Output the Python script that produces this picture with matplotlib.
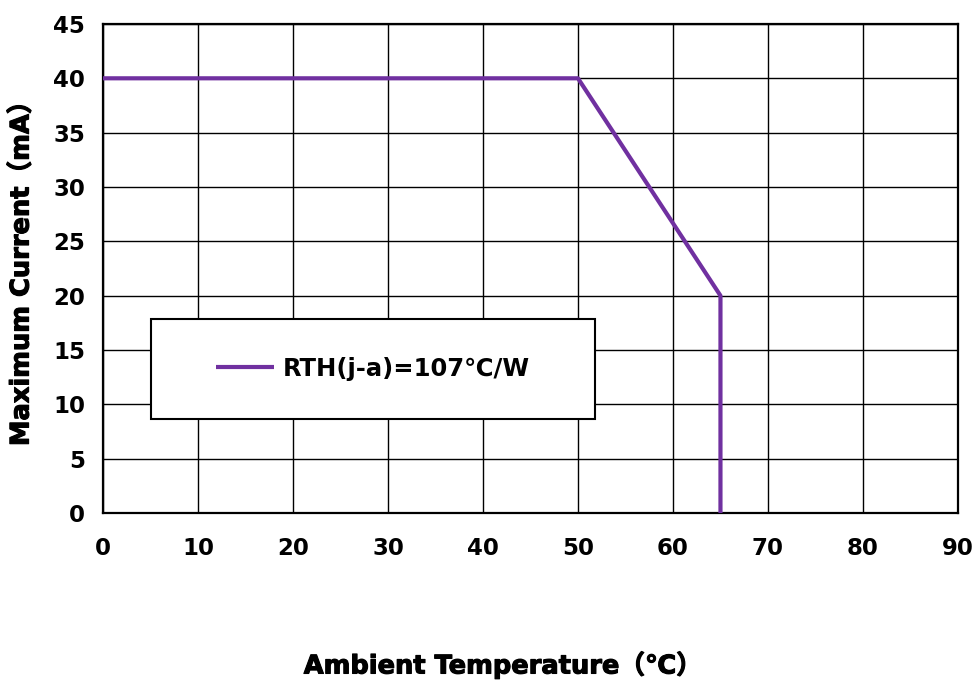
import matplotlib.pyplot as plt
import matplotlib.patheffects as pe
from matplotlib.patches import Rectangle

plt.rcParams['font.family'] = ['DejaVu Sans', 'Noto Sans CJK SC']
plt.rcParams['font.weight'] = 'bold'

# derating curve
temperature = [0, 50, 65, 65]
current = [40, 40, 20, 0]
series_label = 'RTH(j-a)=107℃/W'

x_ticks = [0, 10, 20, 30, 40, 50, 60, 70, 80, 90]
y_ticks = [0, 5, 10, 15, 20, 25, 30, 35, 40, 45]

fig = plt.figure(figsize=(9.79, 6.81), dpi=100)
ax = fig.add_axes([0.1052, 0.2467, 0.8733, 0.7181])

ax.plot(temperature, current, color='#7030A0', linewidth=3, label=series_label,
        solid_capstyle='butt', zorder=3)

ax.set_xlim(0, 90)
ax.set_ylim(0, 45)
ax.set_xticks(x_ticks)
ax.set_yticks(y_ticks)
ax.grid(True, color='black', linewidth=1.0)
ax.set_axisbelow(True)
ax.tick_params(axis='both', length=0, labelsize=16.5)
ax.tick_params(axis='x', pad=17)
ax.tick_params(axis='y', pad=13)
for s in ax.spines.values():
    s.set_linewidth(1.6)

heavy = [pe.withStroke(linewidth=0.8, foreground='black')]
ax.set_xlabel('Ambient Temperature（℃）', fontsize=18.5, fontweight='bold', path_effects=heavy)
ax.xaxis.set_label_coords(0.468, -0.283)
ax.set_ylabel('Maximum Current（mA）', fontsize=18.5, fontweight='bold', path_effects=heavy)
ax.yaxis.set_label_coords(-0.08, 0.503)

# legend box
ax.add_patch(Rectangle((5.05, 8.65), 46.75, 9.2, facecolor='white',
                       edgecolor='black', linewidth=1.5, zorder=4))
leg = ax.legend(loc='center', bbox_to_anchor=(28.4, 13.25), bbox_transform=ax.transData,
                frameon=False, fontsize=17.5, handlelength=2.4, handletextpad=0.35)
leg.set_zorder(5)

fig.savefig('out.png', dpi=100)
